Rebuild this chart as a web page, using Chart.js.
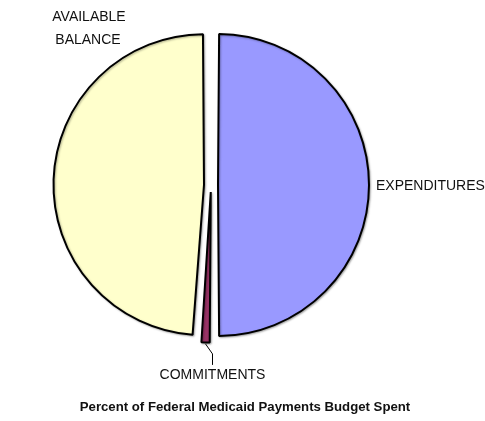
<!DOCTYPE html>
<html>
<head>
<meta charset="utf-8">
<script src="https://cdn.jsdelivr.net/npm/chart.js@4/dist/chart.umd.min.js"></script>
<style>
  html, body { margin: 0; padding: 0; background: #fff; }
  #wrap { width: 485px; height: 421px; position: relative; }
</style>
</head>
<body>
<div id="wrap"><canvas id="budgetPie"></canvas></div>
<script>
// ===== Budget data (percent) =====
const categories = ['EXPENDITURES', 'COMMITMENTS', 'AVAILABLE BALANCE'];
const percents = [50.0, 1.1, 48.9];
const sliceColors = ['#9999FF', '#993366', '#FFFFCC'];
const chartTitle = 'Percent of Federal Medicaid Payments Budget Spent';

const FONT = '"Liberation Sans", Arial, sans-serif';
// Chart.js moves an arc by offset / 4 px and grows it by the same amount
const SLICE_OFFSET = 28;

// light drop shadow under the slices
const shadowPlugin = {
    id: 'sliceShadow',
    beforeDatasetsDraw(chart) {
        const ctx = chart.ctx;
        ctx.save();
        ctx.shadowColor = 'rgba(0,0,0,0.3)';
        ctx.shadowOffsetX = 1;
        ctx.shadowOffsetY = 1;
        ctx.shadowBlur = 2;
    },
    afterDatasetsDraw(chart) {
        chart.ctx.restore();
    }
};

// slice names, commitments leader line and the caption
const labelPlugin = {
    id: 'sliceLabels',
    afterDraw(chart) {
        const ctx = chart.ctx;
        const arcs = chart.getDatasetMeta(0).data;
        ctx.save();
        ctx.fillStyle = '#111';
        ctx.textBaseline = 'middle';
        ctx.font = '14px ' + FONT;

        // EXPENDITURES, right of the slice
        const exp = arcs[0];
        ctx.textAlign = 'left';
        ctx.fillText(categories[0], 376, exp.y + 1);

        // AVAILABLE BALANCE, two lines top-left
        ctx.textAlign = 'center';
        ctx.fillText('AVAILABLE', 89, 17);
        ctx.fillText('BALANCE', 88, 40);

        // COMMITMENTS with a leader line from the slice edge
        const com = arcs[1];
        const mid = (com.startAngle + com.endAngle) / 2;
        const off = com.options.offset / 4;
        const cx = com.x + Math.cos(mid) * off;
        const cy = com.y + Math.sin(mid) * off;
        const r = com.outerRadius + off + 1;
        const sx = cx + Math.cos(mid) * r;
        const sy = cy + Math.sin(mid) * r;
        ctx.strokeStyle = '#000';
        ctx.lineWidth = 1;
        ctx.beginPath();
        ctx.moveTo(sx, sy);
        ctx.lineTo(sx + 7, sy + 10);
        ctx.lineTo(sx + 7, sy + 21);
        ctx.stroke();
        ctx.fillText(categories[1], sx + 7, sy + 31);

        // caption
        ctx.font = 'bold 13.2px ' + FONT;
        ctx.fillText(chartTitle, 245, 407);
        ctx.restore();
    }
};

const pieCtx = document.getElementById('budgetPie').getContext('2d');
new Chart(pieCtx, {
    type: 'pie',
    data: {
        labels: categories,
        datasets: [{
            data: percents,
            backgroundColor: sliceColors,
            borderColor: '#000',
            borderWidth: 2,
            offset: SLICE_OFFSET
        }]
    },
    options: {
        responsive: true,
        maintainAspectRatio: false,
        animation: false,
        events: [],
        radius: 144,
        layout: { padding: { left: 0, top: 0, right: 63, bottom: 51 } },
        plugins: {
            legend: { display: false },
            tooltip: { enabled: false }
        }
    },
    plugins: [shadowPlugin, labelPlugin]
});
</script>
</body>
</html>
